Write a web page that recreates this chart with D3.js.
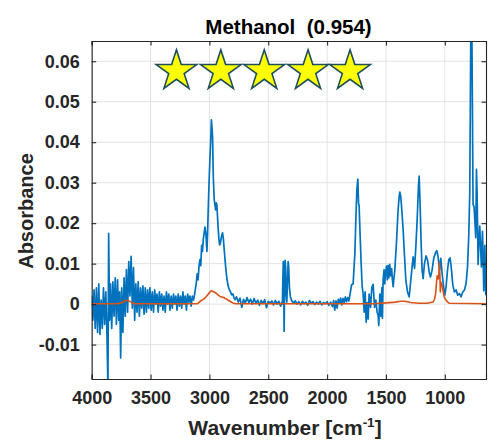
<!DOCTYPE html>
<html>
<head>
<meta charset="utf-8">
<script src="https://cdn.jsdelivr.net/npm/d3@7"></script>
<style>
  html, body { margin: 0; padding: 0; background: #fff; }
  svg { display: block; font-family: "Liberation Sans", Arial, Helvetica, sans-serif; }
</style>
</head>
<body>
<svg id="chart" width="488" height="447"></svg>
<script>
// Measured infrared spectrum [wavenumber cm^-1, absorbance]
const measuredSpectrum = [
  [4000,0.002],[3990,-0.004],[3980,0.0035],[3970,-0.006],[3960,0.004],[3950,-0.007],[3940,0.005],
  [3930,-0.0075],[3920,0.001],[3910,-0.006],[3900,0.004],[3890,-0.005],[3880,0.003],[3870,-0.008],
  [3862,-0.021],[3856,0.0175],[3848,-0.004],[3840,0.005],[3830,-0.006],[3820,0.0055],[3810,-0.003],
  [3800,0.0065],[3790,-0.005],[3780,0.006],[3770,-0.004],[3762,0.003],[3754,-0.0133],[3745,0.004],
  [3735,-0.007],[3725,0.0065],[3715,-0.003],[3705,0.0085],[3695,-0.002],[3685,0.0105],[3675,0.002],
  [3665,0.0118],[3655,-0.001],[3645,0.009],[3635,-0.004],[3625,0.005],[3615,-0.002],[3605,0.0055],
  [3595,-0.003],[3585,0.004],[3575,-0.001],[3565,0.0045],[3555,-0.0025],[3545,0.004],[3535,-0.002],
  [3525,0.0035],[3515,-0.001],[3505,0.004],[3495,-0.0015],[3485,0.003],[3475,-0.002],[3465,0.0035],
  [3455,0.0],[3445,0.0025],[3435,-0.002],[3425,0.003],[3415,-0.0005],[3405,0.0025],[3395,-0.0015],
  [3385,0.002],[3375,-0.002],[3365,0.003],[3355,0.0],[3345,0.0025],[3335,-0.0015],[3325,0.002],
  [3315,-0.001],[3305,0.0025],[3295,0.0],[3285,0.002],[3275,-0.0015],[3265,0.0025],[3255,-0.0005],
  [3245,0.002],[3235,-0.001],[3225,0.003],[3215,0.0],[3205,0.002],[3195,-0.0015],[3185,0.0025],
  [3175,0.0005],[3165,0.002],[3155,-0.0005],[3145,0.002],[3135,0.001],[3125,0.0025],[3118,0.004],
  [3112,0.005],[3104,0.0075],[3096,0.006],[3088,0.0095],[3080,0.011],[3073,0.0095],[3066,0.0145],
  [3059,0.013],[3052,0.016],[3045,0.0175],[3038,0.019],[3030,0.0175],[3021,0.0130],[3015,0.018],
  [3010,0.0233],[3003,0.030],[2996,0.0356],[2988,0.041],[2983,0.0455],[2978,0.0435],[2973,0.0414],
  [2967,0.0315],[2959,0.0258],[2953,0.0245],[2947,0.0233],[2941,0.025],[2936,0.0245],[2930,0.021],
  [2925,0.0184],[2919,0.016],[2913,0.0146],[2907,0.015],[2902,0.016],[2895,0.017],[2888,0.0176],
  [2881,0.016],[2874,0.0134],[2867,0.011],[2860,0.0085],[2850,0.006],[2840,0.0044],[2830,0.0035],
  [2820,0.003],[2811,0.0023],[2800,0.0025],[2790,0.0015],[2783,0.0011],
  [2770,0.0018],[2755,0.0005],[2740,0.0015],[2725,-0.0008],[2710,0.0012],[2695,0.0003],[2680,0.0016],
  [2665,0.0004],[2650,0.0012],[2635,0.0],[2620,0.0014],[2605,0.0002],[2590,0.001],[2575,-0.0003],
  [2560,0.0009],[2545,0.0001],[2530,0.0011],[2515,-0.0009],[2500,0.0007],[2485,0.0002],[2470,0.0008],
  [2455,-0.0002],[2440,0.0009],[2425,0.0],[2410,0.0007],[2395,-0.0005],[2385,0.0004],
  [2380,0.0],[2376,0.006],[2372,0.0105],[2368,0.002],[2365,-0.0067],[2361,0.004],[2357,0.0108],
  [2352,0.009],[2347,0.002],[2342,0.0005],[2336,0.006],[2331,0.0105],[2326,0.009],[2320,0.004],
  [2312,0.0018],[2300,0.0008],
  [2285,0.0003],[2270,0.0008],[2255,0.0],[2240,0.0006],[2225,-0.0002],[2210,0.0007],[2195,0.0001],
  [2180,0.0005],[2165,-0.0003],[2150,0.0009],[2135,0.0002],[2120,0.0006],[2105,-0.0001],[2090,0.0005],
  [2075,0.0],[2060,0.0007],[2045,-0.0002],[2030,0.0004],[2015,0.0001],[2000,0.0006],[1985,-0.0003],
  [1970,0.0005],[1955,-0.0006],[1945,0.0009],[1935,-0.0015],[1925,0.0008],[1915,-0.001],[1905,0.0012],
  [1895,0.0002],[1885,0.0015],[1875,-0.0002],[1865,0.0014],[1855,0.0004],[1845,0.0018],[1835,0.0006],
  [1825,0.0016],[1815,0.0008],[1805,0.0025],
  [1792,0.0048],[1779,0.005],[1764,0.0126],[1756,0.0209],[1747,0.0283],[1739,0.0309],[1733,0.025],
  [1728,0.0242],[1719,0.0167],[1711,0.0102],[1702,0.0044],[1694,0.0025],
  [1685,-0.002],[1677,0.003],[1668,-0.0045],[1660,0.0004],[1651,-0.0037],[1643,0.0025],[1631,-0.0008],
  [1620,0.0041],[1609,0.0049],[1597,-0.0008],[1586,0.001],[1575,-0.002],[1566,-0.0028],[1561,-0.0053],
  [1552,0.0025],[1544,-0.003],[1535,0.004],[1530,-0.0035],[1524,0.006],[1516,0.0085],[1510,0.005],
  [1504,0.0075],[1495,0.0094],[1488,0.006],[1482,0.0095],[1475,0.0065],[1468,0.0098],[1460,0.007],
  [1452,0.0088],[1445,0.006],[1439,0.0043],
  [1425,0.0084],[1411,0.015],[1397,0.0232],[1388,0.0265],[1382,0.0277],[1374,0.0265],[1365,0.0232],
  [1354,0.0183],[1342,0.0117],[1331,0.0059],[1317,0.003],[1303,0.0018],[1289,0.0059],[1278,0.0092],
  [1269,0.0117],[1257,0.0088],[1246,0.0142],[1235,0.0207],[1224,0.029],[1218,0.0316],[1210,0.0249],
  [1201,0.015],[1193,0.0084],[1184,0.0063],[1173,0.01],[1159,0.0119],[1147,0.0109],[1133,0.008],
  [1122,0.0067],[1108,0.0084],[1094,0.0113],[1079,0.0127],[1068,0.0132],[1057,0.0117],[1045,0.0084],
  [1034,0.0113],[1023,0.0076],[1011,0.0043],[1000,0.0022],[989,0.0043],[977,0.0084],[966,0.011],
  [955,0.0114],[943,0.0084],[932,0.0047],[918,0.003],[904,0.0035],[890,0.0022],[875,0.0026],
  [862,0.0018],[847,0.003],[833,0.0035],[819,0.0051],[807,0.0092],[796,0.0174],[788,0.0273],
  [779,0.068],[770,0.068],[760,0.0246],[751,0.024],[743,0.0197],[737,0.0164],[731,0.0333],
  [726,0.028],[717,0.0098],[709,0.016],[703,0.0193],[697,0.015],[689,0.0092],[680,0.018],
  [675,0.012],[669,0.0033],[660,0.0145],[652,0.0022]
];

// Reference library spectrum [wavenumber cm^-1, absorbance]
const referenceSpectrum = [
  [4000,0.0001],[3780,0.0001],[3740,0.0004],[3715,0.0009],[3690,0.0009],[3665,0.0005],[3640,0.0001],
  [3100,0.0001],[3069,0.0009],[3045,0.0013],[3026,0.0019],[2998,0.0029],[2985,0.0033],[2975,0.0032],
  [2960,0.003],[2941,0.0027],[2925,0.0022],[2910,0.0019],[2899,0.0018],[2885,0.0016],[2877,0.0017],
  [2868,0.0014],[2857,0.0013],[2840,0.0009],[2829,0.0008],[2815,0.0005],[2800,0.0003],[2780,0.0001],
  [1600,0.0001],[1500,0.0003],[1420,0.0005],[1380,0.0007],[1340,0.0007],[1290,0.0004],[1220,0.0002],
  [1150,0.0002],[1100,0.0005],[1088,0.0012],[1078,0.0025],[1070,0.0055],[1065,0.007],[1060,0.0068],
  [1055,0.0062],[1050,0.008],[1046,0.0102],[1042,0.0075],[1038,0.003],[1033,0.0054],[1027,0.005],
  [1022,0.0046],[1015,0.0033],[1005,0.0018],[994,0.0012],[985,0.0008],[975,0.0005],[960,0.0002],
  [650,0.0001]
];

const xTickValues = [4000, 3500, 3000, 2500, 2000, 1500, 1000];
const yTickValues = [-0.01, 0, 0.01, 0.02, 0.03, 0.04, 0.05, 0.06];
const yTickLabels = ["-0.01", "0", "0.01", "0.02", "0.03", "0.04", "0.05", "0.06"];

// Match-quality rating shown as stars
const ratingStars = 5;
const starWavenumbers = [3280, 2903, 2534, 2162, 1805];
const starLevel = 0.0583;

const titleText = "Methanol  (0.954)";
const yLabelText = "Absorbance";

const xDomain = [4000, 650];
const yDomain = [-0.0185, 0.065];

const plot = { left: 91.7, top: 41, right: 486, bottom: 379 };
const axisColor = "#262626";
const gridColor = "#e3e3e3";

const svg = d3.select("#chart");

const x = d3.scaleLinear().domain(xDomain).range([plot.left, plot.right]);
const y = d3.scaleLinear().domain(yDomain).range([plot.bottom, plot.top]);

// Grid
const grid = svg.append("g");
grid.selectAll("line.gx").data(xTickValues).join("line")
  .attr("x1", d => x(d)).attr("x2", d => x(d))
  .attr("y1", plot.top).attr("y2", plot.bottom)
  .attr("stroke", gridColor).attr("stroke-width", 1);
grid.selectAll("line.gy").data(yTickValues).join("line")
  .attr("x1", plot.left).attr("x2", plot.right)
  .attr("y1", d => y(d)).attr("y2", d => y(d))
  .attr("stroke", gridColor).attr("stroke-width", 1);

// Spectra, clipped to the axes box
svg.append("clipPath").attr("id", "plot-clip")
  .append("rect")
  .attr("x", plot.left).attr("y", plot.top)
  .attr("width", plot.right - plot.left).attr("height", plot.bottom - plot.top);

const line = d3.line().x(d => x(d[0])).y(d => y(d[1]));
const series = svg.append("g").attr("clip-path", "url(#plot-clip)");
series.append("path").datum(measuredSpectrum)
  .attr("d", line).attr("fill", "none")
  .attr("stroke", "#0072BD").attr("stroke-width", 1.7).attr("stroke-linejoin", "round");
series.append("path").datum(referenceSpectrum)
  .attr("d", line).attr("fill", "none")
  .attr("stroke", "#D95319").attr("stroke-width", 1.6).attr("stroke-linejoin", "round");

// Axes (ticks point inward on all four sides)
const tickLen = 4.5;
const fmtY = d => yTickLabels[yTickValues.indexOf(d)];

const axB = svg.append("g").attr("transform", `translate(0,${plot.bottom})`)
  .call(d3.axisBottom(x).tickValues(xTickValues).tickSize(-tickLen).tickPadding(12).tickFormat(d3.format("d")));
const axT = svg.append("g").attr("transform", `translate(0,${plot.top})`)
  .call(d3.axisTop(x).tickValues(xTickValues).tickSize(-tickLen).tickFormat(""));
const axL = svg.append("g").attr("transform", `translate(${plot.left},0)`)
  .call(d3.axisLeft(y).tickValues(yTickValues).tickSize(-tickLen).tickPadding(12).tickFormat(fmtY));
const axR = svg.append("g").attr("transform", `translate(${plot.right},0)`)
  .call(d3.axisRight(y).tickValues(yTickValues).tickSize(-tickLen).tickFormat(""));

[axB, axT, axL, axR].forEach(a => {
  a.select(".domain").attr("stroke", axisColor).attr("stroke-width", 1.1);
  a.selectAll(".tick line").attr("stroke", axisColor).attr("stroke-width", 1.1);
  a.selectAll(".tick text")
    .attr("fill", axisColor)
    .attr("font-family", '"Liberation Sans", Arial, sans-serif')
    .attr("font-weight", "bold")
    .attr("font-size", 18);
});

// Title (keeps the double space)
svg.append("text")
  .attr("x", 288.5).attr("y", 33.5)
  .attr("text-anchor", "middle")
  .attr("xml:space", "preserve")
  .style("white-space", "pre")
  .attr("font-weight", "bold").attr("font-size", 20.5)
  .attr("fill", "#000")
  .text(titleText);

// Axis labels
svg.append("text")
  .attr("transform", `translate(33.3,211) rotate(-90)`)
  .attr("text-anchor", "middle")
  .attr("font-weight", "bold").attr("font-size", 20)
  .attr("fill", axisColor)
  .text(yLabelText);

const xl = svg.append("text")
  .attr("x", 285).attr("y", 435)
  .attr("text-anchor", "middle")
  .attr("font-weight", "bold").attr("font-size", 21)
  .attr("fill", axisColor);
xl.append("tspan").text("Wavenumber [cm");
xl.append("tspan").attr("dy", -8).attr("font-size", 13.5).text("-1");
xl.append("tspan").attr("dy", 8).text("]");

// Rating stars
const star = d3.symbol().type(d3.symbolStar).size(510);
svg.append("g").selectAll("path")
  .data(starWavenumbers.slice(0, ratingStars))
  .join("path")
  .attr("d", star)
  .attr("transform", d => `translate(${x(d)},${y(starLevel) + 3})`)
  .attr("fill", "#ffff00")
  .attr("stroke", "#1c4d5c")
  .attr("stroke-width", 1.6)
  .attr("stroke-linejoin", "miter");
</script>
</body>
</html>
